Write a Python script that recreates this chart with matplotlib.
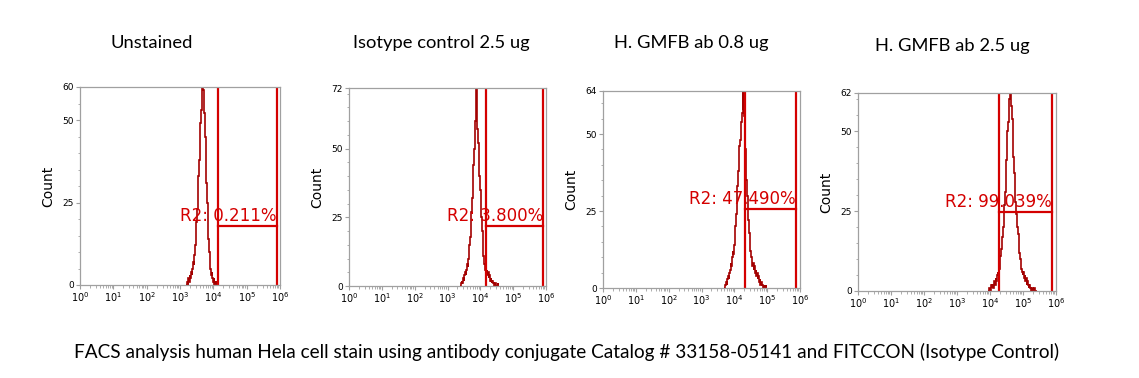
import numpy as np
import matplotlib
matplotlib.use("Agg")
import matplotlib.pyplot as plt
from matplotlib.ticker import FixedLocator, MultipleLocator, LogLocator, NullFormatter

# Panel titles and gate results
titles = ["Unstained", "Isotype control 2.5 ug", "H. GMFB ab 0.8 ug", "H. GMFB ab 2.5 ug"]
gateLabels = ["R2: 0.211%", "R2: 3.800%", "R2: 47.490%", "R2: 99.039%"]
yMax = [60, 72, 64, 62]

# Gate limits (fluorescence) and the height of the gate bar (count)
gateLow = [1.4e4, 1.5e4, 2.1e4, 1.9e4]
gateHigh = [8.0e5, 8.0e5, 7.5e5, 7.5e5]
gateLevel = [17.9, 21.8, 25.7, 24.7]

# Histogram counts, bins start at log10 value and step 0.02 decades
logStart = [3.20, 3.40, 3.70, 3.96]
logStep = 0.02

counts1 = [0, 1, 0, 2, 1, 3, 2, 4, 3, 5, 7, 6, 9, 12, 15, 19, 23, 27, 33, 38,
           44, 49, 53, 57, 60, 59, 56, 52, 45, 38, 31, 25, 19, 14, 10, 7, 5, 3,
           4, 2, 1, 2, 0, 1, 0, 1]
counts2 = [0, 1, 2, 1, 3, 2, 4, 5, 4, 6, 8, 7, 10, 12, 15, 18, 22, 27, 32, 38,
           44, 50, 55, 60, 72, 61, 57, 52, 46, 40, 35, 30, 25, 20, 15, 11, 8, 7,
           6, 5, 6, 4, 5, 3, 4, 2, 3, 2, 1, 2, 1, 1, 0, 1, 0, 0, 0, 1, 0]
counts3 = [0, 1, 1, 2, 1, 3, 4, 3, 5, 6, 8, 7, 10, 12, 11, 14, 17, 20, 24, 28,
           33, 38, 43, 46, 48, 52, 54, 57, 64, 58, 56, 50, 45, 40, 35, 30, 26,
           22, 18, 15, 12, 10, 9, 7, 8, 6, 7, 5, 6, 4, 5, 3, 4, 2, 3, 1, 2, 1,
           1, 0, 1, 0, 0, 1, 0, 0]
counts4 = [0, 1, 1, 0, 2, 1, 2, 1, 2, 3, 2, 4, 3, 5, 6, 5, 7, 9, 11, 13, 15, 17,
           20, 23, 27, 31, 36, 41, 45, 50, 53, 57, 60, 62, 61, 58, 54, 48, 42,
           37, 32, 28, 24, 21, 20, 18, 15, 12, 10, 8, 7, 6, 5, 6, 4, 5, 3, 4, 2,
           3, 2, 1, 2, 1, 1, 0, 1, 0, 0, 1, 0, 0, 0]
allCounts = [counts1, counts2, counts3, counts4]

caption = "FACS analysis human Hela cell stain using antibody conjugate Catalog # 33158-05141 and FITCCON (Isotype Control)"

W, H = 1139, 378
# axes boxes in pixels: left, right, top, bottom
boxes = [(80, 280, 87, 285), (349, 546, 88, 286), (603, 800, 91, 288), (858, 1056, 93, 291)]
titleXY = [(152, 43), (441, 43), (691, 43), (952, 46)]

histColor = "#a30000"
gateColor = "#d40000"
spineColor = "#a0a0a0"

fig = plt.figure(figsize=(W / 100, H / 100), dpi=100)

for i in range(4):
    l, r, t, b = boxes[i]
    ax = fig.add_axes([l / W, 1 - b / H, (r - l) / W, (b - t) / H])

    c = np.array(allCounts[i], dtype=float)
    edges = 10 ** (logStart[i] - logStep / 2 + logStep * np.arange(len(c) + 1))
    ax.stairs(c, edges, color=histColor, linewidth=1.2)

    ax.set_xscale("log")
    ax.set_xlim(1, 1e6)
    ax.set_ylim(0, yMax[i])

    # gate
    ax.axvline(gateLow[i], color=gateColor, linewidth=1.6)
    ax.axvline(gateHigh[i], color=gateColor, linewidth=1.6)
    ax.plot([gateLow[i], gateHigh[i]], [gateLevel[i], gateLevel[i]], color=gateColor, linewidth=1.6)
    ax.text(gateHigh[i], gateLevel[i] + 0.4, gateLabels[i], color=gateColor,
            ha="right", va="bottom", fontsize=12, family="DejaVu Sans")

    for s in ax.spines.values():
        s.set_color(spineColor)
        s.set_linewidth(0.9)

    ax.yaxis.set_major_locator(FixedLocator([0, 25, 50, yMax[i]]))
    ax.yaxis.set_minor_locator(MultipleLocator(5))
    ax.xaxis.set_minor_locator(LogLocator(base=10, subs=np.arange(2, 10), numticks=20))
    ax.xaxis.set_minor_formatter(NullFormatter())
    ax.set_xticks([10 ** k for k in range(7)])
    ax.set_xticklabels([r"$10^{%d}$" % k for k in range(7)])
    ax.tick_params(which="both", direction="out", color=spineColor, labelsize=6.5, pad=1.5)
    ax.tick_params(which="major", length=3)
    ax.tick_params(which="minor", length=1.8)
    ax.tick_params(axis="x", labelsize=7, pad=1)

    ax.set_ylabel("Count", fontsize=10, labelpad=5)

    fig.text(titleXY[i][0] / W, 1 - titleXY[i][1] / H, titles[i], ha="center", va="center",
             fontsize=13.2, family="Lato")

fig.text(567 / W, 1 - 352 / H, caption, ha="center", va="center", fontsize=13.7, family="Lato")

fig.savefig("out.png", dpi=100)
